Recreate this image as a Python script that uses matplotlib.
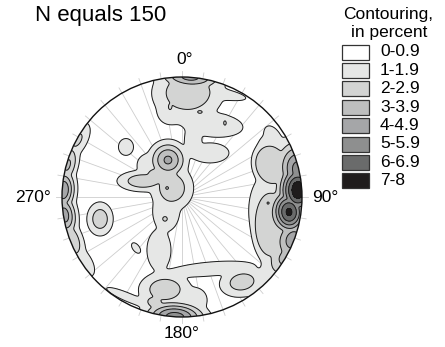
import numpy as np
import matplotlib
matplotlib.use("Agg")
import matplotlib.pyplot as plt
from matplotlib.patches import Circle, Rectangle

plt.rcParams['font.family'] = ['Liberation Sans', 'DejaVu Sans']

# Pole-density concentrations on the equal-area net (x east, y north, unit radius).
# Each has a peak density (percent), the half-extent of its 1 % contour along and
# across its long axis, the long-axis direction (degrees from east) and a profile
# sharpness (2 = gaussian, larger = flatter top).
conc_x = [0.033, 0.05, 0.067, -0.10, 0.258, 0.333, 0.092, -0.10, 0.15, 0.358,
          -0.117, 0.233, -0.283, -0.325, -0.083, -0.125, -0.467, -0.225, -0.10,
          -0.869, -0.953, -0.988, -0.979, -0.923, -0.828, -0.683, -0.383,
          -0.133, -0.192, -0.142,
          0.233,
          -0.142, 0.108, -0.058, -0.458, -0.23,
          0.50, 0.75,
          0.775, 0.717, 0.74, 0.735, 0.974, 0.967, 0.892, 0.925, 0.858, 0.717, 0.758]
conc_y = [0.808, 0.87, 0.998, 0.708, 0.60, 0.858, 0.475, 0.75, 0.708, 0.617,
          0.308, 0.367, 0.267, 0.133, 0.075, 0.075, 0.417, 0.183, 0.158,
          0.475, 0.267, 0.058, -0.15, -0.358, -0.542, -0.183, -0.425,
          -0.125, -0.442, -0.183,
          -0.60,
          -0.77, -0.858, -0.998, -0.833, -0.88,
          -0.708, -0.625,
          0.308, -0.108, 0.267, -0.233, 0.225, 0.058, -0.125, -0.358, -0.508, -0.05, 0.50]
conc_peak = [1.8, 2.95, 4.3, 1.6, 1.6, 1.4, 1.5, 2.15, 2.15, 2.15,
             4.2, 1.6, 1.6, 2.8, 2.8, 3.1, 1.4, 2.5, 2.5,
             2.2, 3.2, 4.8, 4.5, 3.0, 1.8, 2.7, 1.3,
             1.7, 1.7, 2.15,
             1.5,
             2.8, 1.6, 5.5, 1.35, 2.4,
             2.6, 1.7,
             1.8, 1.8, 2.9, 2.9, 5.5, 7.8, 7.2, 4.5, 3.3, 3.1, 1.5]
conc_reach_along = [0.217, 0.30, 0.30, 0.10, 0.25, 0.20, 0.12, 0.05, 0.05, 0.05,
                    0.175, 0.158, 0.09, 0.217, 0.19, 0.05, 0.07, 0.11, 0.11,
                    0.16, 0.19, 0.21, 0.21, 0.19, 0.14, 0.142, 0.05,
                    0.16, 0.17, 0.05,
                    0.35,
                    0.22, 0.10, 0.31, 0.183, 0.12,
                    0.19, 0.25,
                    0.22, 0.30, 0.20, 0.33, 0.30, 0.30, 0.25, 0.25, 0.20, 0.04, 0.10]
conc_reach_across = [0.183, 0.22, 0.11, 0.10, 0.10, 0.042, 0.07, 0.03, 0.03, 0.03,
                     0.175, 0.083, 0.09, 0.09, 0.18, 0.05, 0.0625, 0.09, 0.09,
                     0.08, 0.09, 0.12, 0.12, 0.10, 0.075, 0.11, 0.028,
                     0.11, 0.10, 0.05,
                     0.058,
                     0.146, 0.10, 0.15, 0.035, 0.08,
                     0.125, 0.083,
                     0.13, 0.16, 0.16, 0.16, 0.22, 0.22, 0.20, 0.20, 0.16, 0.04, 0.06]
conc_angle = [0, 0, -4, 0, -5, -10, 90, 90, 0, 90,
              0, 0, 0, 0, 90, 0, 90, 0, 90,
              61.3, 74.4, 86.6, 98.7, 111.2, 123.2, 90, -53,
              90, 90, 0,
              5,
              0, 0, -3, -23, -15,
              10, 50,
              112, 90, 105, 90, 103, 90, 95, 69, 59, 0, 120]
conc_sharpness = [3, 2, 2, 3, 3, 3, 3, 2, 2, 2,
                  2, 3, 3, 2, 2, 2, 3, 2, 2,
                  2, 2, 2, 2, 2, 2, 2, 3,
                  3, 3, 2,
                  3,
                  2, 3, 2, 3, 2,
                  2, 3,
                  4, 4, 4, 4, 2, 2, 2, 2, 2, 2, 3]

levels = [1, 2, 3, 4, 5, 6, 7, 8]
level_labels = ["0-0.9", "1-1.9", "2-2.9", "3-3.9", "4-4.9", "5-5.9", "6-6.9", "7-8"]
level_colors = ["#ffffff", "#e6e7e6", "#d3d4d3", "#bebfbf", "#a5a6a8",
                "#8e8f8f", "#6a6b6b", "#1f1c1c"]
direction_labels = ["0°", "90°", "180°", "270°"]

W, H = 445, 347
fig = plt.figure(figsize=(W / 100, H / 100), dpi=100)

# axes sized so the net has a radius of 120 px centred at (182, 197)
cx, cy, r = 182, 197, 120
lim = 1.1
ax = fig.add_axes([(cx - lim * r) / W, (H - cy - lim * r) / H,
                   2 * lim * r / W, 2 * lim * r / H])
ax.set_xlim(-lim, lim)
ax.set_ylim(-lim, lim)
ax.set_aspect('equal')
ax.axis('off')

# radial guide lines every 10 degrees
for az in range(0, 360, 10):
    t = np.deg2rad(az)
    ax.plot([0, 1.05 * np.sin(t)], [0, 1.05 * np.cos(t)],
            color="#cdcdcd", lw=0.6, zorder=1)

# density grid: smooth maximum of the individual concentrations
g = np.linspace(-1.02, 1.02, 600)
X, Y = np.meshgrid(g, g)
T = 0.25
acc = np.zeros_like(X)
for x0, y0, a, ra, rc, ang, k in zip(conc_x, conc_y, conc_peak, conc_reach_along,
                                     conc_reach_across, conc_angle, conc_sharpness):
    th = np.deg2rad(ang)
    dx, dy = X - x0, Y - y0
    p = (dx * np.cos(th) + dy * np.sin(th)) / ra
    q = (-dx * np.sin(th) + dy * np.cos(th)) / rc
    f = a * np.exp(-np.log(a) * (p * p + q * q) ** (k / 2))
    acc += np.expm1(f / T)
Z = T * np.log1p(acc)

clip = Circle((0, 0), 1.0, transform=ax.transData)
cf = ax.contourf(X, Y, Z, levels=levels + [100], colors=level_colors[1:], zorder=2)
cf.set_clip_path(clip)
cl = ax.contour(X, Y, Z, levels=levels[:-1], colors="#1a1a1a", linewidths=0.7, zorder=3)
cl.set_clip_path(clip)

ax.add_patch(Circle((0, 0), 1.0, fill=False, ec="#111111", lw=1.0, zorder=4))

fs = 12.5
ax.text(0.02, 1.15, direction_labels[0], ha='center', va='center', fontsize=fs)
ax.text(1.19, 0, direction_labels[1], ha='center', va='center', fontsize=fs)
ax.text(0, -1.14, direction_labels[2], ha='center', va='center', fontsize=fs)
ax.text(-1.24, 0, direction_labels[3], ha='center', va='center', fontsize=fs)

fig.text(35 / W, 1 - 15 / H, "N equals 150", ha='left', va='center', fontsize=16)

# legend
fig.text(388 / W, 1 - 14 / H, "Contouring,", ha='center', va='center', fontsize=12.5)
fig.text(389 / W, 1 - 32 / H, "in percent", ha='center', va='center', fontsize=12.5)
box_x, box_w, box_h, step, top0 = 342, 27, 15, 18.4, 44.5
for i, (lab, col) in enumerate(zip(level_labels, level_colors)):
    top = top0 + i * step
    fig.patches.append(Rectangle((box_x / W, 1 - (top + box_h) / H), box_w / W, box_h / H,
                                 transform=fig.transFigure, fc=col, ec="#333333", lw=0.9))
    fig.text(380 / W, 1 - (top + box_h / 2) / H, lab, ha='left', va='center', fontsize=12.5)

fig.savefig("out.png", dpi=100)
